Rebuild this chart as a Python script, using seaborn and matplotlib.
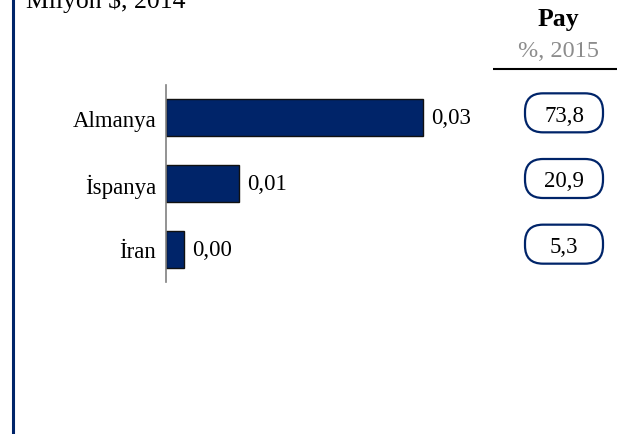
import matplotlib
matplotlib.use("Agg")
import matplotlib.pyplot as plt
import seaborn as sns
import pandas as pd
from matplotlib.patches import FancyBboxPatch

# ---- data ----
countries = ["Almanya", "İspanya", "İran"]
values = [0.0295, 0.0084, 0.0021]
shares = [73.8, 20.9, 5.3]
title = "Milyon $, 2014"
share_title = "Pay"
share_sub = "%, 2015"

sns.set_theme(style="white")
plt.rcParams['font.family'] = ['Liberation Serif', 'DejaVu Serif']
plt.rcParams['text.color'] = 'black'
plt.rcParams['ytick.color'] = 'black'
plt.rcParams['ytick.labelcolor'] = 'black'

NAVY = "#002469"
W, H = 625, 435
fig = plt.figure(figsize=(W / 100, H / 100), dpi=100)

ax = fig.add_axes([166 / W, 1 - 283 / H, 314 / W, 197 / H])
df = pd.DataFrame({"country": countries, "value": values})
sns.barplot(data=df, x="value", y="country", ax=ax, color=NAVY, width=0.56,
            edgecolor="#111111", linewidth=1, saturation=1)
ax.set_xlim(0, 0.036)
ax.set_ylim(2.5, -0.5)
ax.set_xlabel("")
ax.set_ylabel("")
ax.set_xticks([])
ax.tick_params(axis='y', length=0, pad=7, labelsize=16.5, labelcolor='black')
for side in ["top", "right", "bottom"]:
    ax.spines[side].set_visible(False)
ax.spines["left"].set_color("#808080")
ax.spines["left"].set_linewidth(1.2)
ax.bar_label(ax.containers[0], labels=[f"{v:.2f}".replace(".", ",") for v in values],
             padding=5.5, fontsize=16.5, color='black')

# ---- overlay in pixel coordinates ----
ov = fig.add_axes([0, 0, 1, 1])
ov.set_xlim(0, W)
ov.set_ylim(H, 0)
ov.axis("off")
ov.patch.set_alpha(0)

ov.plot([13, 13], [0, H], color=NAVY, lw=2.2, solid_capstyle="butt")
ov.text(26, 8, title, fontsize=18.5, ha="left", va="baseline")
ov.text(558, 26, share_title, fontsize=18.5, fontweight="bold", ha="center", va="baseline")
ov.text(559, 57, share_sub, fontsize=17.5, color="#8c8c8c", ha="center", va="baseline")
ov.plot([493, 617], [69.5, 69.5], color="black", lw=1.5, solid_capstyle="butt")

inv = ov.transData.inverted()
for i, s in enumerate(shares):
    y = inv.transform(ax.transData.transform((0, i)))[1] - 5
    box = FancyBboxPatch((525, y - 19.5), 78, 39,
                         boxstyle="round,pad=0,rounding_size=18",
                         fc="white", ec=NAVY, lw=1.6)
    ov.add_patch(box)
    ov.text(564, y, f"{s:.1f}".replace(".", ","), fontsize=16.5,
            ha="center", va="center_baseline")

fig.savefig("out.png", dpi=100)
